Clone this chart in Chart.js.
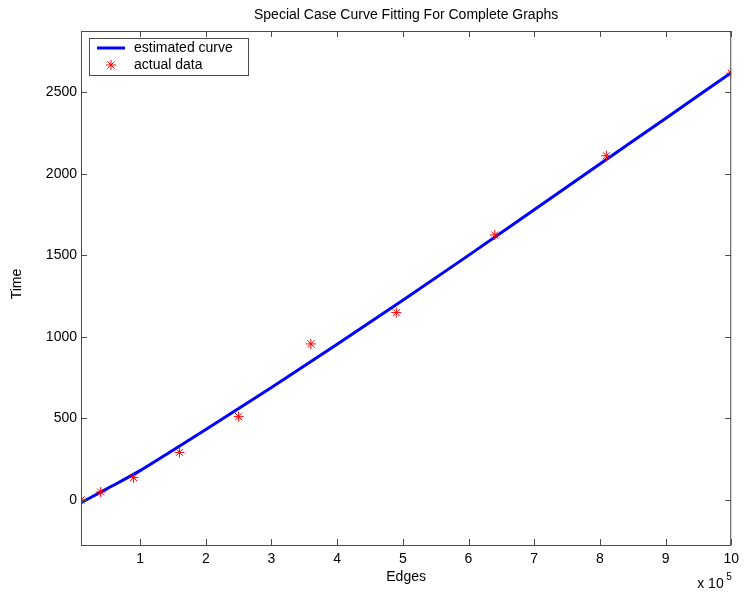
<!DOCTYPE html>
<html><head><meta charset="utf-8">
<script src="https://cdn.jsdelivr.net/npm/chart.js@4/dist/chart.umd.min.js"></script>
<style>html,body{margin:0;padding:0;background:#fff}#wrap{width:745px;height:596px;position:relative}</style>
</head><body><div id="wrap"><canvas id="c" width="745" height="596"></canvas></div>
<script>
// Edges (in units of 10^5) and measured time
const edges = [0.1, 0.4, 0.9, 1.6, 2.5, 3.6, 4.9, 6.4, 8.1, 10];
const times = [0, 49, 137, 292, 511, 957, 1149, 1625, 2111, 2617];
// estimated (fitted) curve
const curveEdges = [0.1, 0.5, 1, 1.5, 2, 3, 4, 5, 6, 7, 8, 9, 10];
const curveTimes = [-17, 70, 180, 305, 432, 690, 955, 1225, 1500, 1780, 2060, 2340, 2620];
const xTicks = [1, 2, 3, 4, 5, 6, 7, 8, 9, 10];
const yTicks = [0, 500, 1000, 1500, 2000, 2500];
const xRange = [0.1, 10];
const yRange = [-276, 2876];
const titleText = 'Special Case Curve Fitting For Complete Graphs';
const xTitle = 'Edges';
const yTitle = 'Time';
const legendLabels = ['estimated curve', 'actual data'];

const FONT = '"Liberation Sans", Arial, Helvetica, sans-serif';
const AXIS = '#4a4a4a';

function drawStar(ctx, x, y, r) {
  ctx.save();
  ctx.strokeStyle = '#ff0000'; ctx.lineWidth = 1;
  ctx.beginPath();
  ctx.moveTo(x - r, y); ctx.lineTo(x + r, y);
  ctx.moveTo(x, y - r); ctx.lineTo(x, y + r);
  const d = r * Math.SQRT1_2;
  ctx.moveTo(x - d, y - d); ctx.lineTo(x + d, y + d);
  ctx.moveTo(x - d, y + d); ctx.lineTo(x + d, y - d);
  ctx.stroke();
  ctx.restore();
}

const decor = {
  id: 'decor',
  afterDraw(chart) {
    const ctx = chart.ctx, a = chart.chartArea;
    const xs = chart.scales.x, ys = chart.scales.y;
    ctx.save();
    ctx.strokeStyle = AXIS; ctx.lineWidth = 1;
    ctx.strokeRect(a.left + 0.5, a.top + 0.5, a.right - a.left - 1, a.bottom - a.top);
    ctx.beginPath();
    const tl = 6;
    xTicks.forEach(v => {
      const px = Math.round(xs.getPixelForValue(v)) + 0.5;
      ctx.moveTo(px, a.bottom); ctx.lineTo(px, a.bottom - tl);
      ctx.moveTo(px, a.top); ctx.lineTo(px, a.top + tl);
    });
    yTicks.forEach(v => {
      const py = Math.round(ys.getPixelForValue(v)) + 0.5;
      ctx.moveTo(a.left, py); ctx.lineTo(a.left + tl, py);
      ctx.moveTo(a.right, py); ctx.lineTo(a.right - tl, py);
    });
    ctx.stroke();

    ctx.fillStyle = '#000';
    ctx.font = '14px ' + FONT;
    ctx.textBaseline = 'middle';
    ctx.textAlign = 'center';
    const cx = (a.left + a.right) / 2;
    ctx.fillText(titleText, cx, 15);
    ctx.fillText(xTitle, cx, 577);
    ctx.save();
    ctx.translate(17, (a.top + a.bottom) / 2 - 4);
    ctx.rotate(-Math.PI / 2);
    ctx.fillText(yTitle, 0, 0);
    ctx.restore();
    ctx.textAlign = 'left';
    ctx.fillText('x 10', a.right - 34, 584);
    ctx.font = '10px ' + FONT;
    ctx.fillText('5', a.right - 5, 577);

    // legend box
    const lx = a.left + 8, ly = a.top + 7, lw = 159, lh = 37;
    ctx.fillStyle = '#fff';
    ctx.fillRect(lx, ly, lw, lh);
    ctx.strokeStyle = AXIS; ctx.lineWidth = 1;
    ctx.strokeRect(lx + 0.5, ly + 0.5, lw, lh);
    ctx.strokeStyle = '#0000ff'; ctx.lineWidth = 3;
    ctx.beginPath(); ctx.moveTo(lx + 8, ly + 10); ctx.lineTo(lx + 36, ly + 10); ctx.stroke();
    drawStar(ctx, lx + 22, ly + 27, 5);
    ctx.fillStyle = '#000';
    ctx.font = '14px ' + FONT;
    ctx.textBaseline = 'middle';
    ctx.textAlign = 'left';
    ctx.fillText(legendLabels[0], lx + 45, ly + 10);
    ctx.fillText(legendLabels[1], lx + 45, ly + 27);
    ctx.restore();
  }
};

new Chart(document.getElementById('c'), {
  type: 'scatter',
  data: {
    datasets: [
      {
        label: legendLabels[1],
        data: edges.map((e, i) => ({x: e, y: times[i]})),
        pointStyle: 'star',
        pointRadius: 5,
        pointBorderColor: '#ff0000',
        pointBackgroundColor: '#ff0000',
        pointBorderWidth: 1,
        showLine: false,
        order: 0
      },
      {
        label: legendLabels[0],
        type: 'line',
        data: curveEdges.map((e, i) => ({x: e, y: curveTimes[i]})),
        borderColor: '#0000ff',
        borderWidth: 3,
        pointRadius: 0,
        fill: false,
        cubicInterpolationMode: 'monotone',
        order: 1
      }
    ]
  },
  options: {
    responsive: false,
    animation: false,
    devicePixelRatio: 1,
    layout: {padding: {top: 31, right: 11, left: 0, bottom: 0}},
    plugins: {legend: {display: false}, title: {display: false}, tooltip: {enabled: false}},
    scales: {
      x: {
        type: 'linear', min: xRange[0], max: xRange[1],
        afterBuildTicks: s => { s.ticks = xTicks.map(v => ({value: v})); },
        afterFit: s => { s.height = 51; },
        grid: {display: false, drawTicks: false},
        border: {display: false},
        ticks: {padding: 6, color: '#000', font: {family: FONT, size: 14}, maxRotation: 0,
                callback: v => String(v)}
      },
      y: {
        type: 'linear', min: yRange[0], max: yRange[1],
        afterBuildTicks: s => { s.ticks = yTicks.map(v => ({value: v})); },
        afterFit: s => { s.width = 81; },
        grid: {display: false, drawTicks: false},
        border: {display: false},
        ticks: {padding: 4, color: '#000', font: {family: FONT, size: 14},
                callback: v => String(v)}
      }
    }
  },
  plugins: [decor]
});
</script>
</body></html>
